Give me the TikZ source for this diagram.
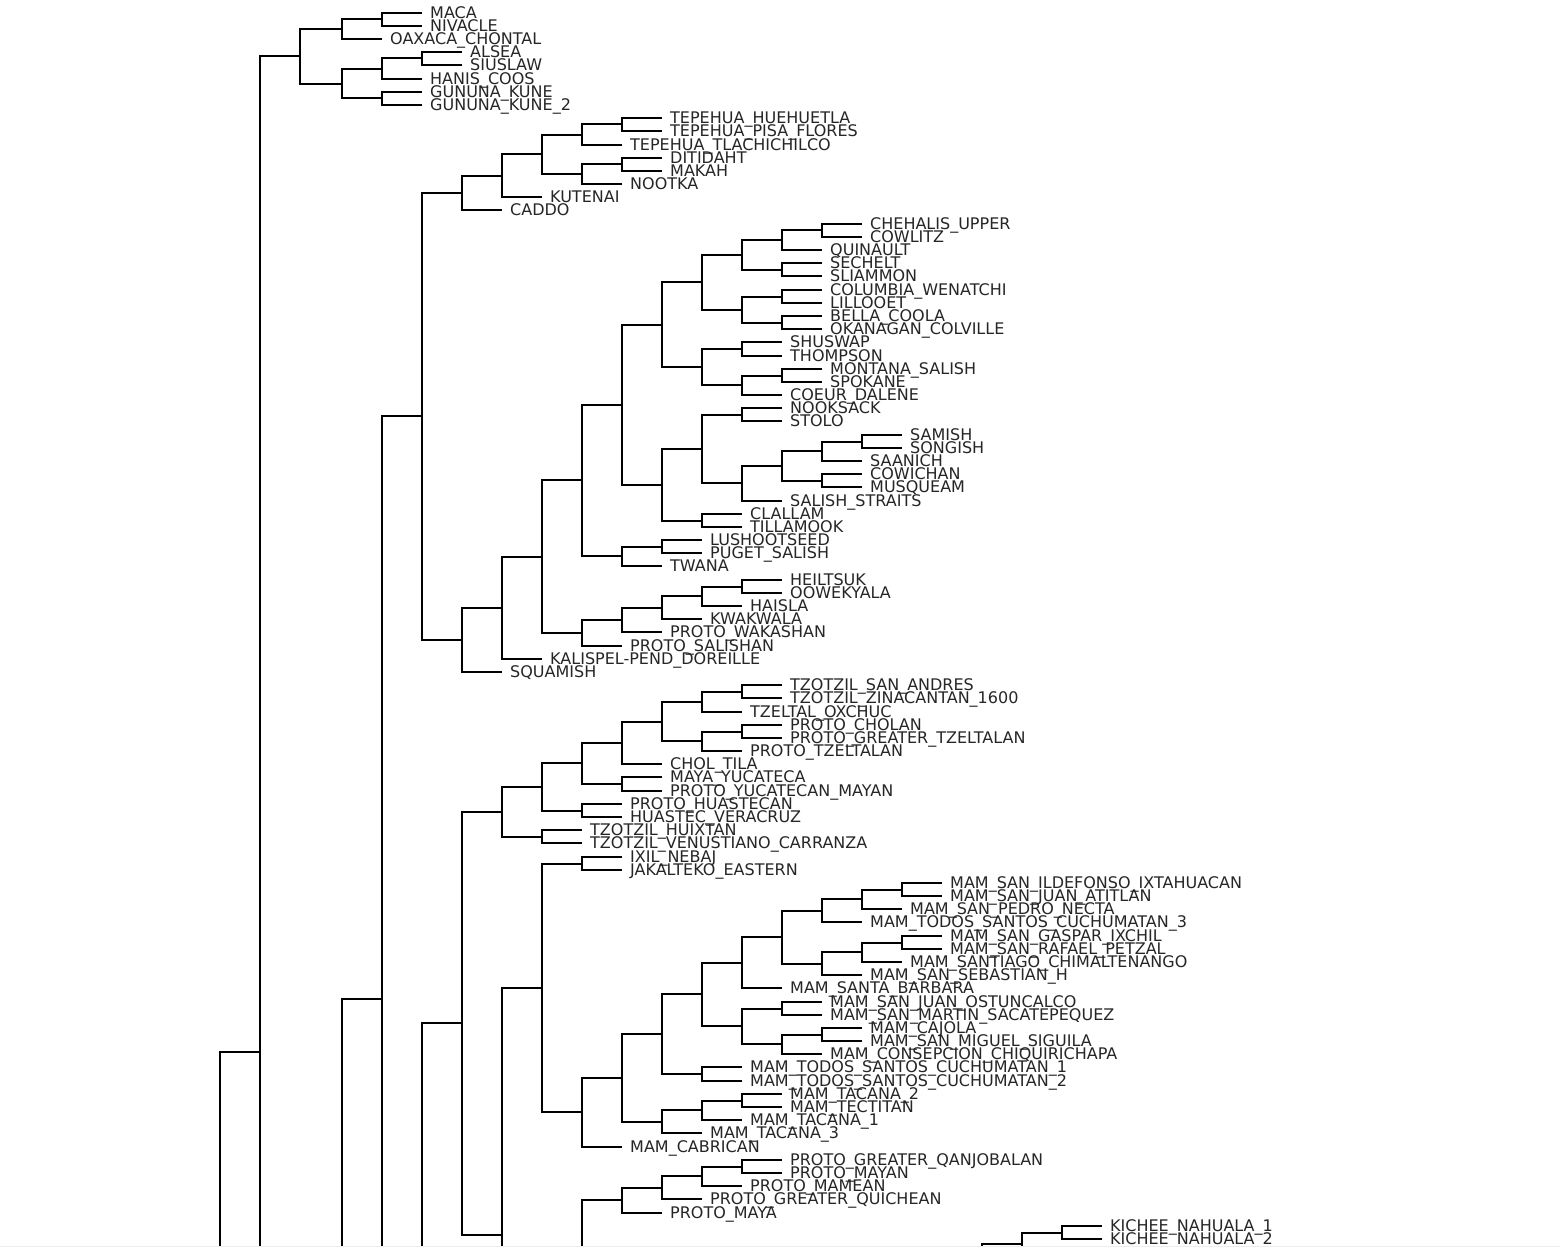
\documentclass[tikz,border=0pt]{standalone}
\usepackage{fontspec}
\usepackage{xcolor}
\usetikzlibrary{calc}
\newfontfamily\taxonfont{DejaVu Sans}
\definecolor{baum-schwarz}{HTML}{000000}
\definecolor{baum-text}{HTML}{262626}
\definecolor{baum-rand}{HTML}{EDEDED}

\tikzset{
  ast/.style={draw=baum-schwarz, line width=1pt},
  taxon/.style={anchor=base west, inner sep=0pt, xshift=3.9pt, yshift=-2.8pt,
    text=baum-text, font=\taxonfont\fontsize{8}{9}\selectfont}
}

\begin{document}
\begin{tikzpicture}[x=0.5pt, y=-0.5pt]
    % Rahmen in Bildpunkten
    \path[use as bounding box, fill=white] (0,0) rectangle (1560,1247);
    \clip (0,0) rectangle (1560,1247);

    % Blaetter: Name / Tiefe des Linienendes / Beschriftung
    \foreach \tname/\ttiefe/\ttext [count=\i] in {
        maca/5/MACA, nivacle/5/NIVACLE, oaxaca/4/OAXACA\_CHONTAL,
        alsea/6/ALSEA, siuslaw/6/SIUSLAW, hanis/5/HANIS\_COOS,
        gununa/5/GUNUNA\_KUNE, gununab/5/GUNUNA\_KUNE\_2,
        tephue/11/TEPEHUA\_HUEHUETLA, teppisa/11/TEPEHUA\_PISA\_FLORES,
        teptla/10/TEPEHUA\_TLACHICHILCO, ditidaht/11/DITIDAHT, makah/11/MAKAH,
        nootka/10/NOOTKA, kutenai/8/KUTENAI, caddo/7/CADDO,
        chehalis/16/CHEHALIS\_UPPER, cowlitz/16/COWLITZ, quinault/15/QUINAULT,
        sechelt/15/SECHELT, sliammon/15/SLIAMMON, columbia/15/COLUMBIA\_WENATCHI,
        lillooet/15/LILLOOET, bella/15/BELLA\_COOLA, okanagan/15/OKANAGAN\_COLVILLE,
        shuswap/14/SHUSWAP, thompson/14/THOMPSON, montana/15/MONTANA\_SALISH,
        spokane/15/SPOKANE, coeur/14/COEUR\_DALENE,
        nooksack/14/NOOKSACK, stolo/14/STOLO, samish/17/SAMISH, songish/17/SONGISH,
        saanich/16/SAANICH, cowichan/16/COWICHAN, musqueam/16/MUSQUEAM,
        straits/14/SALISH\_STRAITS, clallam/13/CLALLAM, tillamook/13/TILLAMOOK,
        lushoot/12/LUSHOOTSEED, puget/12/PUGET\_SALISH, twana/11/TWANA,
        heiltsuk/14/HEILTSUK, oowekyala/14/OOWEKYALA, haisla/13/HAISLA,
        kwakwala/12/KWAKWALA, pwakashan/11/PROTO\_WAKASHAN,
        psalishan/10/PROTO\_SALISHAN, kalispel/8/KALISPEL-PEND\_DOREILLE,
        squamish/7/SQUAMISH,
        tzsanandres/14/TZOTZIL\_SAN\_ANDRES, tzzinacantan/14/TZOTZIL\_ZINACANTAN\_1600,
        tzeltal/13/TZELTAL\_OXCHUC, pcholan/14/PROTO\_CHOLAN,
        pgtzeltalan/14/PROTO\_GREATER\_TZELTALAN, ptzeltalan/13/PROTO\_TZELTALAN,
        choltila/11/CHOL\_TILA, yucateca/11/MAYA\_YUCATECA,
        pyucatecan/11/PROTO\_YUCATECAN\_MAYAN, phuastecan/10/PROTO\_HUASTECAN,
        huastec/10/HUASTEC\_VERACRUZ, tzhuixtan/9/TZOTZIL\_HUIXTAN,
        tzvenustiano/9/TZOTZIL\_VENUSTIANO\_CARRANZA,
        ixil/10/IXIL\_NEBAJ, jakalteko/10/JAKALTEKO\_EASTERN,
        mildefonso/18/MAM\_SAN\_ILDEFONSO\_IXTAHUACAN, matitlan/18/MAM\_SAN\_JUAN\_ATITLAN,
        mnecta/17/MAM\_SAN\_PEDRO\_NECTA, mtodos3/16/MAM\_TODOS\_SANTOS\_CUCHUMATAN\_3,
        mixchil/18/MAM\_SAN\_GASPAR\_IXCHIL, mpetzal/18/MAM\_SAN\_RAFAEL\_PETZAL,
        mchimal/17/MAM\_SANTIAGO\_CHIMALTENANGO, msebastian/16/MAM\_SAN\_SEBASTIAN\_H,
        mbarbara/14/MAM\_SANTA\_BARBARA, mostuncalco/15/MAM\_SAN\_JUAN\_OSTUNCALCO,
        msacatepequez/15/MAM\_SAN\_MARTIN\_SACATEPEQUEZ, mcajola/16/MAM\_CAJOLA,
        msiguila/16/MAM\_SAN\_MIGUEL\_SIGUILA,
        mconsepcion/15/MAM\_CONSEPCION\_CHIQUIRICHAPA,
        mtodos1/13/MAM\_TODOS\_SANTOS\_CUCHUMATAN\_1,
        mtodos2/13/MAM\_TODOS\_SANTOS\_CUCHUMATAN\_2,
        mtacana2/14/MAM\_TACANA\_2, mtectitan/14/MAM\_TECTITAN,
        mtacana1/13/MAM\_TACANA\_1, mtacana3/12/MAM\_TACANA\_3,
        mcabrican/10/MAM\_CABRICAN,
        pqanjobalan/14/PROTO\_GREATER\_QANJOBALAN, pmayan/14/PROTO\_MAYAN,
        pmamean/13/PROTO\_MAMEAN, pquichean/12/PROTO\_GREATER\_QUICHEAN,
        pmaya/11/PROTO\_MAYA,
        kichee1/22/KICHEE\_NAHUALA\_1, kichee2/22/KICHEE\_NAHUALA\_2} {
        \pgfmathsetmacro\bx{222+40*\ttiefe-2*(\ttiefe<3)}
        \pgfmathsetmacro\by{round(12.7+13.185*(\i-1))}
        \coordinate (\tname) at (\bx, \by);
        \node[taxon] (\tname-t) at (\tname) {\ttext};
    }

    % Aeste, die unter dem Bildrand weiterlaufen
    \coordinate (hA)  at (300, 2047.6);
    \coordinate (hR)  at (260, 2000);
    \coordinate (hP)  at (382, 1700);
    \coordinate (hDA) at (462, 2139.6);
    \coordinate (hMC) at (542, 1482.3);
    \coordinate (hNA) at (622, 1400);
    \coordinate (hK2) at (1062, 1255.7);
    \coordinate (hK3) at (1022, 1300);

    % Innere Knoten: Name / Tiefe / erstes Kind / zweites Kind
    \foreach \kname/\ktiefe/\ka/\kb in {
        mn/4/maca/nivacle, mno/3/mn/oaxaca, as/5/alsea/siuslaw, ash/4/as/hanis,
        gk/4/gununa/gununab, ashg/3/ash/gk, top/2/mno/ashg,
        nA/1/top/hA, root/0/nA/hR,
        tep/10/tephue/teppisa, tj/9/tep/teptla, dm/10/ditidaht/makah,
        tk/9/dm/nootka, ti/8/tj/tk, th/7/ti/kutenai, tf/6/th/caddo,
        sam/15/chehalis/cowlitz, sak/14/sam/quinault, sal/14/sechelt/sliammon,
        sai/13/sak/sal, san/14/columbia/lillooet, sao/14/bella/okanagan,
        saj/13/san/sao, sag/12/sai/saj, sap/13/shuswap/thompson,
        sar/14/montana/spokane, saq/13/sar/coeur, sah/12/sap/saq, sw/11/sag/sah,
        saa/13/nooksack/stolo, saf/16/samish/songish, sad/15/saf/saanich,
        sae/15/cowichan/musqueam, sac/14/sad/sae, sab/13/sac/straits,
        sy/12/saa/sab, sz/12/clallam/tillamook, sx/11/sy/sz, st/10/sw/sx,
        sv/11/lushoot/puget, su/10/sv/twana, sn/9/st/su,
        ws/13/heiltsuk/oowekyala, wr/12/ws/haisla, wq/11/wr/kwakwala,
        wp/10/wq/pwakashan, wo/9/wp/psalishan, sm/8/sn/wo,
        sl/7/sm/kalispel, sg/6/sl/squamish, se/5/tf/sg,
        m1/13/tzsanandres/tzzinacantan, m2/12/m1/tzeltal,
        m3/13/pcholan/pgtzeltalan, m4/12/m3/ptzeltalan, m5/11/m2/m4,
        m6/10/m5/choltila, m7/10/yucateca/pyucatecan, m8/9/m6/m7,
        m9/9/phuastecan/huastec, m10/8/m8/m9, m11/8/tzhuixtan/tzvenustiano,
        mb/7/m10/m11, ix/9/ixil/jakalteko,
        mam1/17/mildefonso/matitlan, mams/16/mam1/mnecta, mamq/15/mams/mtodos3,
        mam2/17/mixchil/mpetzal, mamt/16/mam2/mchimal, mamr/15/mamt/msebastian,
        mamp/14/mamq/mamr, mamm/13/mamp/mbarbara,
        mam3/14/mostuncalco/msacatepequez, mam4/15/mcajola/msiguila,
        mamo/14/mam4/mconsepcion, mamn/13/mam3/mamo, mamk/12/mamm/mamn,
        maml/12/mtodos1/mtodos2, mamg/11/mamk/maml,
        mamj/13/mtacana2/mtectitan, mami/12/mamj/mtacana1,
        mamh/11/mami/mtacana3, mamf/10/mamg/mamh, mame/9/mamf/mcabrican,
        md/8/ix/mame, mc/7/md/hMC, ma/6/mb/mc, da/5/ma/hDA,
        dd/4/se/da, np/3/dd/hP,
        pe/13/pqanjobalan/pmayan, pd/12/pe/pmamean, pc/11/pd/pquichean,
        pb/10/pc/pmaya, pa/9/pb/hNA,
        k1/21/kichee1/kichee2, k2/20/k1/hK2, k3/19/k2/hK3} {
        \pgfmathsetmacro\kx{(222+40*\ktiefe-2*(\ktiefe<3))*0.5}
        \path let \p1=(\ka), \p2=(\kb) in
            ({\kx pt}, {0.5*\y1+0.5*\y2}) coordinate (\kname);
        \draw[ast] (\ka) -| (\kname) |- (\kb);
    }

    % Rand unten
    \fill[baum-rand] (0,1245.5) rectangle (1560,1247);
\end{tikzpicture}
\end{document}
